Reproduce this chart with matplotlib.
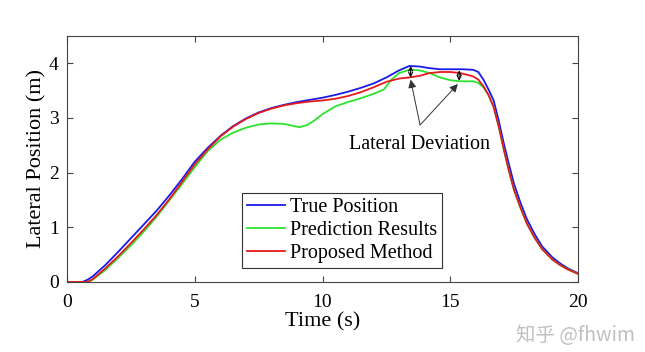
import matplotlib.pyplot as plt

plt.rcParams['font.family'] = ['Liberation Serif', 'DejaVu Serif']

# time samples (s) and lateral position (m)
t_true = [0, 0.6, 0.8, 1.0, 1.5, 2.0, 2.5, 3.0, 3.5, 4.0, 4.5, 5.0, 5.5, 6.0, 6.5, 7.0,
          7.5, 8.0, 8.5, 9.0, 9.5, 10.0, 10.5, 11.0, 11.5, 12.0, 12.5, 13.0, 13.4, 13.8,
          14.2, 14.6, 15.0, 15.5, 15.9, 16.1, 16.3, 16.5, 16.7, 16.9, 17.1, 17.3, 17.5,
          17.75, 18.0, 18.3, 18.6, 19.0, 19.3, 19.6, 20.0]
y_true = [0, 0, 0.04, 0.1, 0.31, 0.55, 0.80, 1.05, 1.30, 1.58, 1.88, 2.20, 2.45, 2.67, 2.85, 2.99,
          3.10, 3.18, 3.24, 3.29, 3.33, 3.37, 3.42, 3.48, 3.55, 3.63, 3.74, 3.87, 3.95, 3.94,
          3.91, 3.89, 3.89, 3.89, 3.88, 3.84, 3.70, 3.52, 3.32, 2.95, 2.53, 2.15, 1.79,
          1.45, 1.15, 0.88, 0.65, 0.45, 0.34, 0.25, 0.16]

t_prop = [0, 0.8, 1.0, 1.5, 2.0, 2.5, 3.0, 3.5, 4.0, 4.5, 5.0, 5.5, 6.0, 6.5, 7.0, 7.5, 8.0,
          8.5, 9.0, 9.5, 10.0, 10.5, 11.0, 11.5, 12.0, 12.5, 13.0, 13.4, 13.8, 14.2, 14.6,
          15.0, 15.4, 15.9, 16.1, 16.3, 16.5, 16.7, 16.9, 17.1, 17.3, 17.5, 17.75, 18.0,
          18.3, 18.6, 19.0, 19.3, 19.6, 20.0]
y_prop = [0, 0, 0.05, 0.25, 0.47, 0.71, 0.96, 1.22, 1.51, 1.83, 2.15, 2.42, 2.66, 2.84, 2.98,
          3.09, 3.17, 3.23, 3.27, 3.30, 3.32, 3.35, 3.40, 3.47, 3.56, 3.66, 3.72, 3.74, 3.77,
          3.82, 3.84, 3.84, 3.82, 3.76, 3.70, 3.58, 3.42, 3.20, 2.84, 2.42, 2.03, 1.68, 1.36,
          1.07, 0.81, 0.60, 0.41, 0.31, 0.23, 0.15]

t_pred = [0, 0.8, 1.0, 1.5, 2.0, 2.5, 3.0, 3.5, 4.0, 4.5, 5.0, 5.5, 6.0, 6.5, 7.0, 7.5, 8.0,
          8.5, 8.8, 9.1, 9.4, 9.7, 10.0, 10.5, 11.0, 11.5, 12.0, 12.4, 12.7, 13.0, 13.4,
          13.8, 14.2, 14.6, 15.0, 15.4, 15.9, 16.1, 16.3, 16.5, 16.7, 16.9, 17.1, 17.3,
          17.5, 17.75, 18.0, 18.3, 18.6, 19.0, 19.3, 19.6, 20.0]
y_pred = [0, 0, 0.04, 0.22, 0.44, 0.67, 0.92, 1.19, 1.49, 1.79, 2.10, 2.39, 2.60, 2.73, 2.82,
          2.88, 2.90, 2.89, 2.86, 2.83, 2.87, 2.96, 3.07, 3.21, 3.29, 3.36, 3.44, 3.52, 3.70,
          3.82, 3.88, 3.87, 3.82, 3.74, 3.69, 3.67, 3.67, 3.64, 3.56, 3.42, 3.20, 2.84, 2.42,
          2.03, 1.68, 1.36, 1.07, 0.81, 0.60, 0.41, 0.31, 0.23, 0.15]

# deviation markers: (time, upper, lower)
dev_t = [13.45, 15.35]
dev_top = [3.95, 3.87]
dev_bot = [3.74, 3.68]

fig = plt.figure(figsize=(6.45, 3.52), dpi=100)
ax = fig.add_axes([0.104, 0.199, 0.792, 0.699])

ax.plot(t_true, y_true, color='#1a1ae6', lw=1.3, label='True Position')
ax.plot(t_pred, y_pred, color='#2de22d', lw=1.3, label='Prediction Results')
ax.plot(t_prop, y_prop, color='#e61a1a', lw=1.3, label='Proposed Method')

for xt, a, b in zip(dev_t, dev_top, dev_bot):
    ax.annotate('', xy=(xt, a), xytext=(xt, b),
                arrowprops=dict(arrowstyle='<->', color='black', lw=0.8,
                                shrinkA=0, shrinkB=0, mutation_scale=7))

ax.annotate('', xy=(dev_t[0], 3.70), xytext=(13.82, 2.87),
            arrowprops=dict(arrowstyle='-|>', color='#333333', lw=0.7,
                            shrinkA=0, shrinkB=0, mutation_scale=12))
ax.annotate('', xy=(dev_t[1] - 0.05, 3.62), xytext=(13.82, 2.87),
            arrowprops=dict(arrowstyle='-|>', color='#333333', lw=0.7,
                            shrinkA=0, shrinkB=0, mutation_scale=12))
ax.text(13.8, 2.52, 'Lateral Deviation', ha='center', va='center', fontsize=14.5)

ax.set_xlim(0, 20)
ax.set_ylim(0, 4.5)
ax.set_xticks([0, 5, 10, 15, 20])
ax.set_yticks([0, 1, 2, 3, 4])
ax.tick_params(direction='in', top=True, right=True, labelsize=14, length=4,
               color='#444444')
ax.tick_params(axis='x', pad=9)
ax.tick_params(axis='y', pad=6)
for s in ax.spines.values():
    s.set_color('#444444')
    s.set_linewidth(0.8)

ax.set_xlabel('Time (s)', fontsize=16, labelpad=0.5)
ax.set_ylabel('Lateral Position (m)', fontsize=16, labelpad=2)

leg = ax.legend(loc='lower left', bbox_to_anchor=(0.343, 0.055), fontsize=14.5,
                fancybox=False, framealpha=1, edgecolor='#333333',
                handlelength=1.85, handletextpad=0.25, borderpad=0.25,
                labelspacing=0.2, borderaxespad=0)
leg.get_frame().set_linewidth(0.8)

fig.text(0.985, 0.048, '知乎 @fhwim', ha='right', va='center', fontsize=14,
         color='#c0c0c0', family=['Noto Sans CJK SC', 'DejaVu Sans'])

fig.savefig('out.png', dpi=100)
